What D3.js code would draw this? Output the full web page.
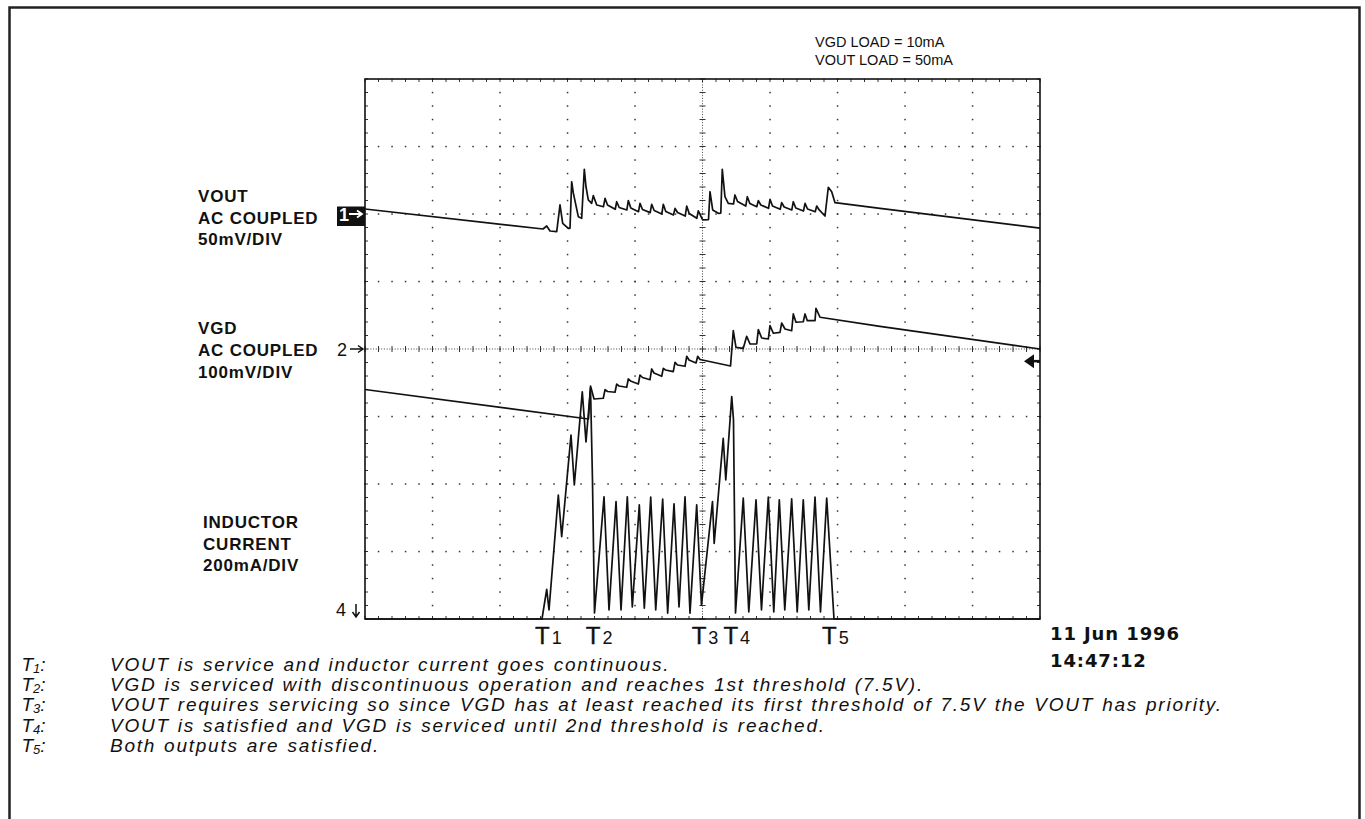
<!DOCTYPE html>
<html>
<head>
<meta charset="utf-8">
<title>VOUT / VGD / inductor current</title>
<style>
	html, body { margin: 0; padding: 0; background: #fff; }
	svg { display: block; }
	.trace { fill: none; stroke: #111; stroke-width: 1.7px; stroke-linejoin: round; }
	.chlabel { font-family: "Liberation Sans", Arial, sans-serif; font-weight: bold; font-size: 17px; letter-spacing: 0.8px; fill: #111; }
	.load { font-family: "Liberation Sans", Arial, sans-serif; font-size: 14.5px; fill: #111; }
	.marker { font-family: "Liberation Sans", Arial, sans-serif; font-weight: bold; font-size: 18px; fill: #111; }
	.tmark { font-family: "Liberation Sans", Arial, sans-serif; fill: #111; stroke: #111; stroke-width: 0.4px; }
	.stamp { font-family: "DejaVu Sans", sans-serif; font-weight: bold; font-size: 18px; letter-spacing: 0.9px; fill: #111; }
	.note { font-family: "Liberation Sans", Arial, sans-serif; font-style: italic; font-size: 19px; letter-spacing: 1.75px; word-spacing: 1px; fill: #111; }
</style>
</head>
<body>
<svg id="chart" width="1365" height="819"></svg>
<script src="https://cdn.jsdelivr.net/npm/d3@7"></script>
<script>
// time axis in divisions (10 div across the screen), values in channel units

// channel 1: VOUT, AC coupled, 50 mV/div, reference 2 div above centre  [t, mV]
var voutTrace = [
	[0.000, 3.7], [2.637, -11.1], [2.692, -8.9], [2.741, -12.6], [2.840, -13.1],
	[2.889, 6.7], [2.929, -6.9], [3.012, -10.6], [3.037, -10.6], [3.062, 23.9],
	[3.086, 15.6], [3.160, -2.0], [3.210, -3.2], [3.249, 33.1], [3.274, 20.2],
	[3.308, 10.4], [3.358, 7.9], [3.382, 13.6], [3.433, 6.7],
	[3.533, 5.4], [3.556, 11.6], [3.593, 6.7],
	[3.707, 3.5], [3.729, 9.1], [3.766, 4.8],
	[3.879, 3.0], [3.901, 9.9], [3.938, 4.4],
	[4.052, 1.7], [4.074, 7.9], [4.111, 3.3],
	[4.225, 1.0], [4.247, 7.2], [4.284, 2.6],
	[4.397, 0.0], [4.419, 7.2], [4.456, 1.9],
	[4.570, -0.7], [4.593, 4.2], [4.630, 1.1],
	[4.744, -1.5], [4.766, 5.9], [4.803, 0.4],
	[4.916, -3.2], [4.938, 2.4], [4.975, -1.5],
	[5.003, -4.4], [5.089, -4.1], [5.111, 16.5], [5.151, 3.0], [5.234, 0.5],
	[5.271, 0.7], [5.293, 33.1], [5.333, 12.8], [5.382, 7.9],
	[5.459, 7.4], [5.481, 14.1], [5.519, 9.3],
	[5.641, 5.9], [5.664, 12.8], [5.701, 7.8],
	[5.804, 5.4], [5.827, 9.9], [5.864, 6.7],
	[5.978, 4.2], [6.000, 10.9], [6.037, 5.9],
	[6.151, 3.5], [6.173, 8.4], [6.210, 5.2],
	[6.323, 3.0], [6.345, 9.1], [6.382, 4.4],
	[6.496, 2.2], [6.519, 7.9], [6.556, 3.7],
	[6.670, 1.7], [6.692, 5.9], [6.729, 3.0],
	[6.815, -1.5], [6.864, 19.8], [6.914, 16.5], [6.963, 8.4],
	[7.630, 4.1], [10.000, -10.4]
];

// channel 2: VGD, AC coupled, 100 mV/div, reference at centre  [t, mV]
var vgdTrace = [
	[0.000, -60.0], [3.311, -103.7], [3.341, -54.8], [3.393, -74.1],
	[3.530, -73.0], [3.556, -60.3], [3.593, -63.0],
	[3.704, -64.1], [3.729, -51.9], [3.763, -54.8],
	[3.877, -56.7], [3.901, -44.4], [3.933, -47.4],
	[4.049, -51.9], [4.074, -38.5], [4.111, -42.2],
	[4.222, -45.5], [4.247, -29.6], [4.281, -35.6],
	[4.396, -40.4], [4.419, -28.6], [4.452, -31.1],
	[4.567, -33.6], [4.593, -19.7], [4.630, -23.7],
	[4.741, -25.6], [4.766, -10.8], [4.800, -16.3],
	[4.904, -20.7], [4.929, -10.8], [4.963, -15.6],
	[5.415, -25.2], [5.456, 27.1], [5.496, 2.5],
	[5.604, 1.0], [5.655, 18.8], [5.704, 7.4],
	[5.803, 7.4], [5.827, 28.6], [5.877, 16.3],
	[5.975, 14.8], [6.000, 34.5], [6.049, 23.3],
	[6.148, 24.7], [6.173, 38.5], [6.222, 29.6],
	[6.321, 27.1], [6.345, 51.9], [6.385, 39.6],
	[6.493, 40.4], [6.519, 51.9], [6.553, 41.9],
	[6.667, 41.9], [6.681, 60.3], [6.741, 47.0],
	[7.630, 33.6], [10.000, 0.0]
];

// channel 4: inductor current, 200 mA/div, reference at bottom  [t, mA]
var inductorTrace = [
	[0.000, 0], [2.622, 0], [2.692, 88], [2.726, 27], [2.864, 367], [2.914, 244],
	[3.052, 545], [3.101, 397], [3.219, 673], [3.274, 525], [3.341, 684],
	[3.370, 412], [3.400, 18],
	[3.541, 362], [3.615, 27], [3.719, 348], [3.793, 27], [3.886, 362], [3.960, 36],
	[4.064, 338], [4.138, 32], [4.233, 361], [4.307, 27], [4.410, 355], [4.484, 17],
	[4.578, 341], [4.652, 36], [4.741, 362], [4.815, 17], [4.914, 338], [4.985, 41],
	[5.148, 348], [5.173, 224], [5.307, 535], [5.345, 412], [5.433, 659],
	[5.459, 590], [5.489, 18],
	[5.604, 358], [5.686, 21], [5.793, 353], [5.874, 27], [5.975, 361], [6.056, 21],
	[6.138, 353], [6.219, 27], [6.321, 356], [6.403, 21], [6.493, 353], [6.575, 27],
	[6.667, 361], [6.748, 21], [6.840, 358], [6.948, 0], [10.000, 0]
];

var channelRefDiv = [2, 0, -4];
var channelPerDiv = [50, 100, 200];
var channelLabels = [
	["VOUT", "AC COUPLED", "50mV/DIV"],
	["VGD", "AC COUPLED", "100mV/DIV"],
	["INDUCTOR", "CURRENT", "200mA/DIV"]
];
var loadLabels = ["VGD LOAD = 10mA", "VOUT LOAD = 50mA"];
var eventNames = ["1", "2", "3", "4", "5"];
var eventLabelDiv = [2.52, 3.27, 4.84, 5.31, 6.77];
var eventNotes = [
	"VOUT is service and inductor current goes continuous.",
	"VGD is serviced with discontinuous operation and reaches 1st threshold (7.5V).",
	"VOUT requires servicing so since VGD has at least reached its first threshold of 7.5V the VOUT has priority.",
	"VOUT is satisfied and VGD is serviced until 2nd threshold is reached.",
	"Both outputs are satisfied."
];
var stampLines = ["11 Jun 1996", "14:47:12"];
var triggerLevelDiv = -0.18;

(function draw() {
	var svg = d3.select('#chart');
	var plot = { left: 365, top: 79, width: 675, height: 540 };
	var bottom = plot.top + plot.height, right = plot.left + plot.width;

	var x = d3.scaleLinear().domain([0, 10]).range([plot.left, right]);
	var yDiv = d3.scaleLinear().domain([-4, 4]).range([bottom, plot.top]);

	// outer frame
	svg.append('path')
		.attr('d', 'M9.5,819 V7.5 H1359.5 V819')
		.attr('fill', 'none').attr('stroke', '#222').attr('stroke-width', 2.5);

	// graticule
	var g = svg.append('g');
	var minorX = d3.range(0, 10.001, 0.2), minorY = d3.range(-4, 4.001, 0.2);
	var dots = [];
	d3.range(1, 10).forEach(function (i) {
		if (i === 5) return;
		minorY.forEach(function (v) { dots.push([x(i), yDiv(v)]); });
	});
	d3.range(-3, 4).forEach(function (j) {
		if (j === 0) return;
		minorX.forEach(function (u) { dots.push([x(u), yDiv(j)]); });
	});
	g.selectAll('rect.dot').data(dots).enter().append('rect')
		.attr('class', 'dot')
		.attr('x', function (d) { return d[0] - 0.7; })
		.attr('y', function (d) { return d[1] - 0.7; })
		.attr('width', 1.5).attr('height', 1.5).attr('fill', '#333');

	// centre crosshair, dense dots with minor ticks
	g.append('line').attr('x1', x(5)).attr('x2', x(5)).attr('y1', plot.top).attr('y2', bottom)
		.attr('stroke', '#444').attr('stroke-width', 1).attr('stroke-dasharray', '1,1.7');
	g.append('line').attr('x1', plot.left).attr('x2', right).attr('y1', yDiv(0)).attr('y2', yDiv(0))
		.attr('stroke', '#444').attr('stroke-width', 1).attr('stroke-dasharray', '1,1.7');
	g.selectAll('line.cx').data(minorY).enter().append('line')
		.attr('x1', x(5) - 3).attr('x2', x(5) + 3)
		.attr('y1', function (d) { return yDiv(d); }).attr('y2', function (d) { return yDiv(d); })
		.attr('stroke', '#333').attr('stroke-width', 1);
	g.selectAll('line.cy').data(minorX).enter().append('line')
		.attr('y1', yDiv(0) - 3).attr('y2', yDiv(0) + 3)
		.attr('x1', function (d) { return x(d); }).attr('x2', function (d) { return x(d); })
		.attr('stroke', '#333').attr('stroke-width', 1);

	// border ticks
	var ticks = [];
	minorX.forEach(function (u) {
		ticks.push([x(u), plot.top, x(u), plot.top + 3]);
		ticks.push([x(u), bottom, x(u), bottom - 3]);
	});
	minorY.forEach(function (v) {
		ticks.push([plot.left, yDiv(v), plot.left + 3, yDiv(v)]);
		ticks.push([right, yDiv(v), right - 3, yDiv(v)]);
	});
	g.selectAll('line.bt').data(ticks).enter().append('line')
		.attr('x1', function (d) { return d[0]; }).attr('y1', function (d) { return d[1]; })
		.attr('x2', function (d) { return d[2]; }).attr('y2', function (d) { return d[3]; })
		.attr('stroke', '#333').attr('stroke-width', 1);

	g.append('rect').attr('x', plot.left).attr('y', plot.top)
		.attr('width', plot.width).attr('height', plot.height)
		.attr('fill', 'none').attr('stroke', '#111').attr('stroke-width', 1.6);

	// traces
	var traces = [voutTrace, vgdTrace, inductorTrace];
	traces.forEach(function (data, k) {
		var ref = channelRefDiv[k], per = channelPerDiv[k];
		var y = d3.scaleLinear().domain([(-4 - ref) * per, (4 - ref) * per]).range([bottom, plot.top]);
		var line = d3.line()
			.x(function (d) { return x(d[0]); })
			.y(function (d) { return y(d[1]); });
		svg.append('path').datum(data).attr('class', 'trace').attr('d', line);
	});

	// channel reference markers
	var y1 = yDiv(channelRefDiv[0]);
	svg.append('rect').attr('x', 337).attr('y', y1 - 7.5).attr('width', 28).attr('height', 19.5).attr('fill', '#111');
	svg.append('text').attr('class', 'marker').attr('x', 339).attr('y', y1 + 7).style('fill', '#fff').text('1');
	svg.append('path').attr('d', 'M349,' + y1 + 'H361 M357,' + (y1 - 3.5) + 'L362,' + y1 + 'L357,' + (y1 + 3.5))
		.attr('fill', 'none').attr('stroke', '#fff').attr('stroke-width', 1.8);

	var y2 = yDiv(channelRefDiv[1]);
	svg.append('text').attr('class', 'marker').style('font-weight', 'normal').attr('x', 337).attr('y', y2 + 7).text('2');
	svg.append('path').attr('d', 'M350,' + y2 + 'H362 M358,' + (y2 - 3.5) + 'L363,' + y2 + 'L358,' + (y2 + 3.5))
		.attr('fill', 'none').attr('stroke', '#111').attr('stroke-width', 1.5);

	var y4 = yDiv(channelRefDiv[2]);
	svg.append('text').attr('class', 'marker').style('font-weight', 'normal').attr('x', 336).attr('y', y4 - 3).text('4');
	svg.append('path').attr('d', 'M356,' + (y4 - 15) + 'V' + (y4 - 3) + ' M352.5,' + (y4 - 7) + 'L356,' + (y4 - 2) + 'L359.5,' + (y4 - 7))
		.attr('fill', 'none').attr('stroke', '#111').attr('stroke-width', 1.5);

	// trigger level marker on the right edge
	var yt = yDiv(triggerLevelDiv);
	svg.append('path').attr('d', 'M1024,' + yt + 'L1034,' + (yt - 7) + 'V' + (yt + 7) + 'Z').attr('fill', '#111');
	svg.append('line').attr('x1', 1033).attr('x2', right).attr('y1', yt).attr('y2', yt).attr('stroke', '#111').attr('stroke-width', 2.5);

	// channel labels on the left
	var labelTop = [201.7, 334.3, 527.7], labelLeft = [198, 198, 203];
	channelLabels.forEach(function (lines, k) {
		var t = svg.append('text').attr('class', 'chlabel');
		lines.forEach(function (s, i) {
			t.append('tspan').attr('x', labelLeft[k]).attr('y', labelTop[k] + i * 21.8).text(s);
		});
	});

	// load conditions
	loadLabels.forEach(function (s, i) {
		svg.append('text').attr('class', 'load').attr('x', 815).attr('y', 46.5 + i * 18.5).text(s);
	});

	// event markers under the screen
	eventNames.forEach(function (n, i) {
		var t = svg.append('text').attr('class', 'tmark').attr('x', x(eventLabelDiv[i])).attr('y', 643.5);
		t.append('tspan').style('font-size', '24px').text('T');
		t.append('tspan').attr('dx', 2).style('font-size', '18px').style('stroke-width', '0px').text(n);
	});

	// date stamp
	stampLines.forEach(function (s, i) {
		svg.append('text').attr('class', 'stamp').attr('x', 1050).attr('y', 640 + i * 26.7).text(s);
	});

	// notes
	eventNotes.forEach(function (s, i) {
		var yy = 671 + i * 20.2;
		var t = svg.append('text').attr('class', 'note').style('letter-spacing', '0px').attr('x', 21.5).attr('y', yy);
		t.append('tspan').text('T');
		t.append('tspan').attr('dy', 2).style('font-size', '13px').text(eventNames[i]);
		t.append('tspan').attr('dy', -2).text(':');
		svg.append('text').attr('class', 'note').attr('x', 110).attr('y', yy).text(s);
	});
})();
</script>
</body>
</html>
